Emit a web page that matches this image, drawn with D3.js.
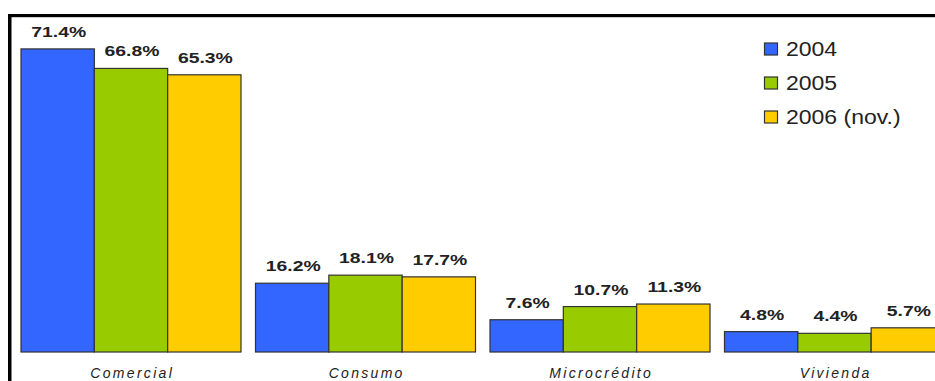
<!DOCTYPE html>
<html><head><meta charset="utf-8">
<script src="https://cdn.jsdelivr.net/npm/d3@7"></script>
<style>body{margin:0;background:#fff}svg{display:block}</style>
</head><body>
<script>
const categories = ["Comercial", "Consumo", "Microcrédito", "Vivienda"];
const seriesNames = ["2004", "2005", "2006 (nov.)"];
const values2004 = [71.4, 16.2, 7.6, 4.8];
const values2005 = [66.8, 18.1, 10.7, 4.4];
const values2006 = [65.3, 17.7, 11.3, 5.7];
const colors = ["#3366FF", "#99CC00", "#FFCC00"];
const seriesValues = [values2004, values2005, values2006];

const W = 935, H = 381;
const svg = d3.select("body").append("svg").attr("width", W).attr("height", H);
svg.append("rect").attr("width", W).attr("height", H).attr("fill", "#fff");

const x0 = d3.scaleBand().domain(categories).range([21, 944.5]).paddingInner(0.0618).paddingOuter(0);
const x1 = d3.scaleBand().domain(seriesNames).range([0, x0.bandwidth()]).padding(0);
const y = d3.scaleLinear().domain([0, 80]).range([352, 352 - 80 * 4.245]);

const font = "'Liberation Sans', Arial, sans-serif";

categories.forEach((c, ci) => {
  const g = svg.append("g").attr("transform", `translate(${x0(c)},0)`);
  seriesNames.forEach((s, si) => {
    const v = seriesValues[si][ci];
    g.append("rect")
      .attr("x", x1(s)).attr("y", y(v))
      .attr("width", x1.bandwidth()).attr("height", y(0) - y(v))
      .attr("fill", colors[si]).attr("stroke", "#333").attr("stroke-width", 1.2);
    g.append("text")
      .attr("transform", `translate(${x1(s) + x1.bandwidth() / 2 + 1},${y(v) - 12}) scale(1.25,1)`)
      .attr("text-anchor", "middle")
      .attr("font-family", font).attr("font-weight", "bold").attr("font-size", 15.5)
      .attr("fill", "#222").text(v.toFixed(1) + "%");
  });
  svg.append("text")
    .attr("transform", `translate(${x0(c) + x0.bandwidth() / 2 + 1.2},378)`)
    .attr("text-anchor", "middle")
    .attr("letter-spacing", 2.3)
    .attr("font-family", font).attr("font-style", "italic").attr("font-size", 14)
    .attr("fill", "#222").text(c);
});

// legend
seriesNames.forEach((s, si) => {
  const ly = 43 + si * 34;
  svg.append("rect").attr("x", 764.5).attr("y", ly).attr("width", 13).attr("height", 12)
    .attr("fill", colors[si]).attr("stroke", "#333").attr("stroke-width", 1.2);
  svg.append("text")
    .attr("transform", `translate(786,${ly + 12.5}) scale(1.18,1)`)
    .attr("font-family", font).attr("font-size", 19.5)
    .attr("fill", "#222").text(s);
});

// frame
svg.append("rect").attr("x", 8).attr("y", 14).attr("width", W - 8).attr("height", 3).attr("fill", "#000");
svg.append("rect").attr("x", 8).attr("y", 17).attr("width", W - 8).attr("height", 1).attr("fill", "#ccc");
svg.append("rect").attr("x", 8).attr("y", 14).attr("width", 3.5).attr("height", H - 14).attr("fill", "#000");
</script>
</body></html>
